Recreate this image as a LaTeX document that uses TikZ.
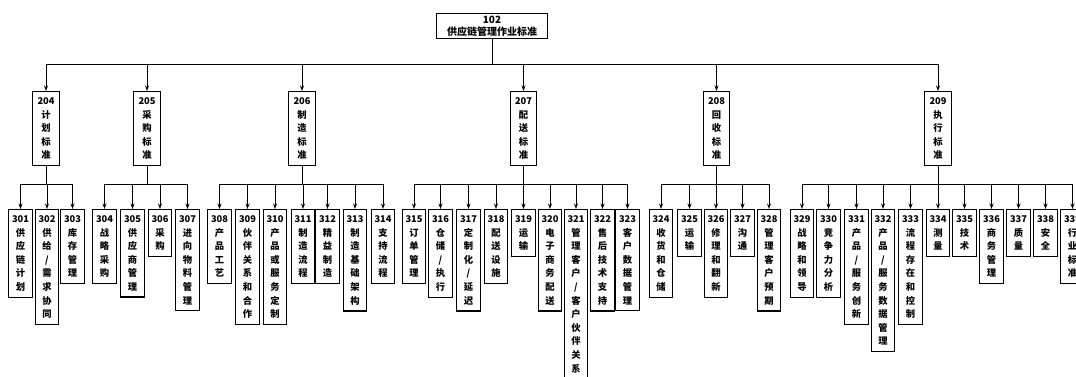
\documentclass[tikz,border=0pt]{standalone}
\usepackage{fontspec}
\setmainfont{Noto Sans CJK SC}
\usetikzlibrary{arrows.meta}

\tikzset{
  box/.style={draw, line width=1.2pt, anchor=north, align=center,
    text width=18pt, inner xsep=2.75pt, inner ysep=6pt,
    font=\bfseries\fontsize{9.3}{13.6}\selectfont},
  pbox/.style={box, text width=21pt},
  topbox/.style={draw, line width=1.3pt, anchor=north, align=center,
    text width=105pt, inner xsep=3pt, inner ysep=2pt,
    font=\bfseries\fontsize{10}{12.5}\selectfont},
  arr/.style={-{Stealth[length=5.5pt,width=4pt]}, line width=0.9pt}
}

\begin{document}
\begin{tikzpicture}[x=1pt, y=-1pt]
    \useasboundingbox (0,0) rectangle (1076,376);
    % top
    \node[topbox] (t102) at (492,13) {102\\供应链管理作业标准};
    % second level
    \foreach \c/\n/\t in {46/204/{计\\划\\标\\准}, 147/205/{采\\购\\标\\准},
      302/206/{制\\造\\标\\准}, 523.5/207/{配\\送\\标\\准},
      716.5/208/{回\\收\\标\\准}, 938/209/{执\\行\\标\\准}}
    {
      \node[pbox] (p\n) at (\c,91) {\n\\\t};
      \draw[arr] (t102.south) -- ++(0,25) -| (p\n.north);
    }
    % third level
    \foreach \c/\p/\n/\t in {
      20.5/204/301/{供\\应\\链\\计\\划},
      47/204/302/{供\\给\\/\\需\\求\\协\\同},
      72.5/204/303/{库\\存\\管\\理},
      104.5/205/304/{战\\略\\采\\购},
      132.5/205/305/{供\\应\\商\\管\\理},
      160/205/306/{采\\购},
      187.5/205/307/{进\\向\\物\\料\\管\\理},
      219.5/206/308/{产\\品\\工\\艺},
      247.5/206/309/{伙\\伴\\关\\系\\和\\合\\作},
      275/206/310/{产\\品\\或\\服\\务\\定\\制},
      303/206/311/{制\\造\\流\\程},
      327.5/206/312/{精\\益\\制\\造},
      355/206/313/{制\\造\\基\\础\\架\\构},
      383/206/314/{支\\持\\流\\程},
      414/207/315/{订\\单\\管\\理},
      440.5/207/316/{仓\\储\\/\\执\\行},
      468.5/207/317/{定\\制\\化\\/\\延\\迟},
      496/207/318/{配\\送\\设\\施},
      523.5/207/319/{运\\输},
      550/207/320/{电\\子\\商\\务\\配\\送},
      576/207/321/{管\\理\\客\\户\\/\\客\\户\\伙\\伴\\关\\系},
      602.5/207/322/{售\\后\\技\\术\\支\\持},
      627.5/207/323/{客\\户\\数\\据\\管\\理},
      661/208/324/{收\\货\\和\\仓\\储},
      689.5/208/325/{运\\输},
      716/208/326/{修\\理\\和\\翻\\新},
      742.5/208/327/{沟\\通},
      769/208/328/{管\\理\\客\\户\\预\\期},
      802/209/329/{战\\略\\和\\领\\导},
      828.5/209/330/{竞\\争\\力\\分\\析},
      856.5/209/331/{产\\品\\/\\服\\务\\创\\新},
      883/209/332/{产\\品\\/\\服\\务\\数\\据\\管\\理},
      910.5/209/333/{流\\程\\存\\在\\和\\控\\制},
      938/209/334/{测\\量},
      964.5/209/335/{技\\术},
      991.5/209/336/{商\\务\\管\\理},
      1018.5/209/337/{质\\量},
      1045.5/209/338/{安\\全},
      1072.5/209/339/{行\\业\\标\\准}}
    {
      \node[box] (n\n) at (\c,209) {\n\\\t};
      \draw[arr] (p\p.south) -- ++(0,18) -| (n\n.north);
    }
\end{tikzpicture}
\end{document}
